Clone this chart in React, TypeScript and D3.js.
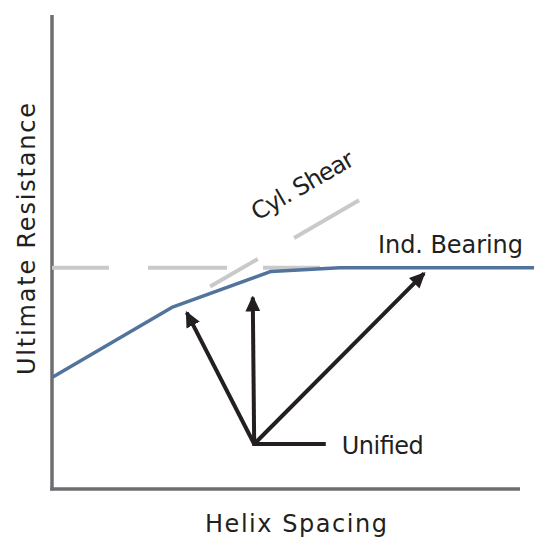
import * as React from "react"
import * as d3 from "d3"

// values, in plot units (0..100 on both axes)
const unifiedX = [0, 25.6, 46.8, 61.5, 103]
const unifiedY = [23.5, 38.3, 45.9, 46.7, 46.7]

const bearingX = [0, 61.5]
const bearingY = [46.7, 46.7]

const shearX = [33.8, 65.6]
const shearY = [42.7, 60.9]

const arrowOrigin = [43.2, 9.5]
const arrowTipX = [28.8, 42.9, 79.5]
const arrowTipY = [37.2, 40.4, 45.5]
const unifiedLeaderEnd = 58.5

const labels = {
    x: "Helix Spacing",
    y: "Ultimate Resistance",
    bearing: "Ind. Bearing",
    shear: "Cyl. Shear",
    unified: "Unified",
}

const W = 535
const H = 538
const margin = { top: 15, right: 15, bottom: 49, left: 52 }

const font = "'DejaVu Sans', 'Open Sans', sans-serif"
const ink = "#231f20"

export default function App(): JSX.Element {
    const ref = React.useRef<SVGSVGElement | null>(null)

    React.useEffect(() => {
        const svg = d3.select(ref.current)
        svg.selectAll("*").remove()

        const x = d3.scaleLinear().domain([0, 100]).range([margin.left, W - margin.right])
        const y = d3.scaleLinear().domain([0, 100]).range([H - margin.bottom, margin.top])

        const line = d3.line<[number, number]>()
            .x(d => x(d[0]))
            .y(d => y(d[1]))

        // arrow head
        svg.append("defs").append("marker")
            .attr("id", "head")
            .attr("markerUnits", "userSpaceOnUse")
            .attr("viewBox", "0 -8 16 16")
            .attr("refX", 14)
            .attr("refY", 0)
            .attr("markerWidth", 16)
            .attr("markerHeight", 16)
            .attr("orient", "auto")
            .append("path")
            .attr("d", "M0,-7.5L16,0L0,7.5Z")
            .attr("fill", ink)

        // axes (no ticks)
        svg.append("line")
            .attr("x1", x(0)).attr("x2", x(0))
            .attr("y1", y(100)).attr("y2", y(0) + 1.5)
            .attr("stroke", "#6d6e71").attr("stroke-width", 3.5)
        svg.append("line")
            .attr("x1", x(0) - 1.75).attr("x2", x(100))
            .attr("y1", y(0)).attr("y2", y(0))
            .attr("stroke", "#6d6e71").attr("stroke-width", 3.5)

        // individual bearing (dashed)
        svg.append("path")
            .attr("d", line(bearingX.map((v, i) => [v, bearingY[i]] as [number, number])))
            .attr("fill", "none")
            .attr("stroke", "#c9c9c9")
            .attr("stroke-width", 4)
            .attr("stroke-dasharray", "57 39 79 36")

        // cylindrical shear (dashed)
        svg.append("path")
            .attr("d", line(shearX.map((v, i) => [v, shearY[i]] as [number, number])))
            .attr("fill", "none")
            .attr("stroke", "#c9c9c9")
            .attr("stroke-width", 4)
            .attr("stroke-dasharray", "55 42 80")

        // unified curve
        svg.append("path")
            .attr("d", line(unifiedX.map((v, i) => [v, unifiedY[i]] as [number, number])))
            .attr("fill", "none")
            .attr("stroke", "#52739b")
            .attr("stroke-width", 3.5)
            .attr("stroke-linejoin", "round")

        // arrows
        const ox = x(arrowOrigin[0])
        const oy = y(arrowOrigin[1])
        arrowTipX.forEach((tx, i) => {
            svg.append("line")
                .attr("x1", ox).attr("y1", oy)
                .attr("x2", x(tx)).attr("y2", y(arrowTipY[i]))
                .attr("stroke", ink)
                .attr("stroke-width", 4)
                .attr("marker-end", "url(#head)")
        })
        svg.append("line")
            .attr("x1", ox - 2).attr("y1", oy)
            .attr("x2", x(unifiedLeaderEnd)).attr("y2", oy)
            .attr("stroke", ink)
            .attr("stroke-width", 4)

        // labels, stretched to the widths seen in the picture
        const text = (s: string, len: number) => svg.append("text")
            .text(s)
            .attr("font-family", font)
            .attr("font-size", 24)
            .attr("fill", ink)
            .attr("textLength", len)
            .attr("lengthAdjust", "spacing")

        text(labels.unified, 82)
            .attr("x", x(unifiedLeaderEnd) + 16)
            .attr("y", oy + 10)

        text(labels.bearing, 145)
            .attr("x", x(100) + 3 - 145)
            .attr("y", y(bearingY[0]) - 15)

        const sx = (x(shearX[0]) + x(shearX[1])) / 2 + 22
        const sy = (y(shearY[0]) + y(shearY[1])) / 2 - 51
        text(labels.shear, 114)
            .attr("x", -57)
            .attr("transform", `translate(${sx},${sy}) rotate(-30)`)

        text(labels.x, 182)
            .attr("x", 205)
            .attr("y", H - 6)

        text(labels.y, 272)
            .attr("x", -136)
            .attr("transform", `translate(${35},${239}) rotate(-90)`)
    }, [])

    return (
        <svg
            ref={ref}
            width={W}
            height={H}
            style={{ position: "absolute", left: 0, top: 0, background: "#fff" }}
        />
    )
}
